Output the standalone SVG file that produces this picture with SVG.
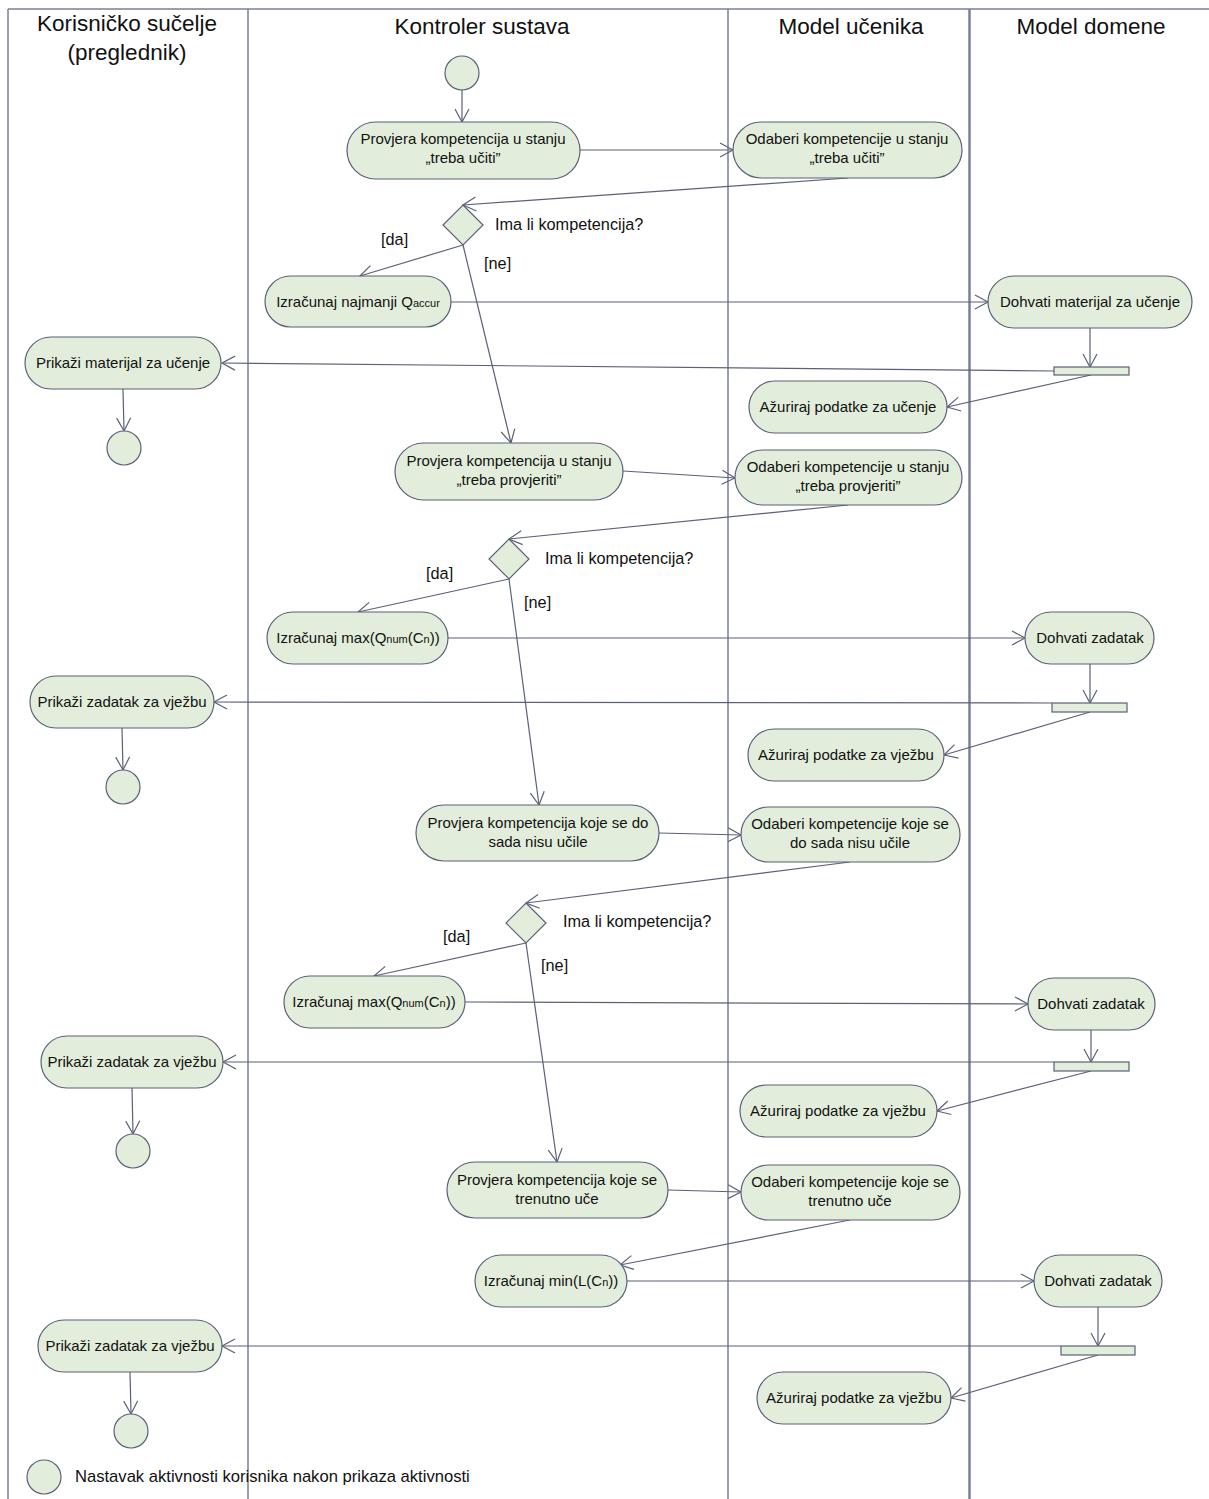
<svg xmlns="http://www.w3.org/2000/svg" width="1209" height="1499" viewBox="0 0 1209 1499">
<defs>
<marker id="arr" markerUnits="userSpaceOnUse" markerWidth="30" markerHeight="30" refX="0" refY="0" viewBox="-15 -15 30 30" orient="auto">
<path d="M-13,-7 L0,0 L-13,7" fill="none" stroke="#5b6177" stroke-width="1.2"/>
</marker>
</defs>
<style>
.lane{stroke:#7a8096;stroke-width:1.5;fill:none}
.act{fill:#e2eedb;stroke:#5b6177;stroke-width:1.2}
.t{font-family:"Liberation Sans",Arial,sans-serif;font-size:15px;fill:#111;text-anchor:middle}
.h{font-family:"Liberation Sans",Arial,sans-serif;font-size:22.5px;fill:#111;text-anchor:middle}
.lbl{font-family:"Liberation Sans",Arial,sans-serif;font-size:16.3px;fill:#111}
.lg{font-family:"Liberation Sans",Arial,sans-serif;font-size:16.6px;fill:#111}
.c{fill:none;stroke:#5b6177;stroke-width:1.2;marker-end:url(#arr)}
.s{font-size:11px}
</style>
<rect width="1209" height="1499" fill="#fff"/>
<g id="lanes">
<path class="lane" d="M8,9 H1209 M8,9 V1499 M248,9 V1499 M728,9 V1499"/>
<path d="M969.5,9 V1499" stroke="#7a8096" stroke-width="2.5"/>
<text class="h" x="127" y="31">Korisničko sučelje</text>
<text class="h" x="127" y="60">(preglednik)</text>
<text class="h" x="482" y="34">Kontroler sustava</text>
<text class="h" x="851" y="34">Model učenika</text>
<text class="h" x="1091" y="34">Model domene</text>
</g>
<g id="connectors">
<path class="c" d="M462,90 V122"/>
<path class="c" d="M580,150 H733"/>
<path class="c" d="M848,178 L463,205"/>
<path class="c" d="M463,245 L360,276"/>
<path class="c" d="M463,245 L511,443"/>
<path class="c" d="M451,302 H988"/>
<path class="c" d="M1090,328 V367"/>
<path class="c" d="M1054,371 L222,363"/>
<path class="c" d="M1091,375 L947,407"/>
<path class="c" d="M123,389 L124,431"/>
<path class="c" d="M623,471 L735,478"/>
<path class="c" d="M848,505 L509,539"/>
<path class="c" d="M509,579 L358,612"/>
<path class="c" d="M509,579 L539,805"/>
<path class="c" d="M448,638 H1025"/>
<path class="c" d="M1090,664 V703"/>
<path class="c" d="M1052,703 L214,702"/>
<path class="c" d="M1090,712 L944,755"/>
<path class="c" d="M122,728 L123,770"/>
<path class="c" d="M659,833 L741,835"/>
<path class="c" d="M850,862 L526,903"/>
<path class="c" d="M526,943 L374,976"/>
<path class="c" d="M526,943 L557,1162"/>
<path class="c" d="M465,1002 L1028,1004"/>
<path class="c" d="M1091,1030 V1062"/>
<path class="c" d="M1054,1062 L223,1062"/>
<path class="c" d="M1091,1071 L937,1111"/>
<path class="c" d="M132,1088 L133,1134"/>
<path class="c" d="M668,1190 L741,1192"/>
<path class="c" d="M850,1220 L620,1265"/>
<path class="c" d="M627,1281 H1034"/>
<path class="c" d="M1098,1307 V1346"/>
<path class="c" d="M1061,1346 L222,1346"/>
<path class="c" d="M1098,1355 L951,1398"/>
<path class="c" d="M130,1372 L131,1414"/>
<text class="lbl" x="495" y="230">Ima li kompetencija?</text>
<text class="lbl" x="381" y="245">[da]</text>
<text class="lbl" x="484" y="269">[ne]</text>
<text class="lbl" x="545" y="564">Ima li kompetencija?</text>
<text class="lbl" x="426" y="579">[da]</text>
<text class="lbl" x="524" y="608">[ne]</text>
<text class="lbl" x="563" y="927">Ima li kompetencija?</text>
<text class="lbl" x="443" y="942">[da]</text>
<text class="lbl" x="541" y="971">[ne]</text>
</g>
<g id="start"><circle class="act" cx="462" cy="73" r="17"/></g>
<g id="n1"><rect class="act" x="347" y="122" width="233" height="57" rx="28.5"/><text class="t" x="463" y="144">Provjera kompetencija u stanju</text><text class="t" x="463" y="163">„treba učiti”</text></g>
<g id="n2"><rect class="act" x="733" y="122" width="229" height="56" rx="28"/><text class="t" x="847" y="144">Odaberi kompetencije u stanju</text><text class="t" x="847" y="163">„treba učiti”</text></g>
<g id="d1"><path class="act" d="M463,205 L483,225 L463,245 L443,225 Z"/></g>
<g id="n3"><rect class="act" x="265" y="276" width="186" height="51" rx="25.5"/><text class="t" x="358" y="307">Izračunaj najmanji Q<tspan class="s">accur</tspan></text></g>
<g id="n4"><rect class="act" x="988" y="276" width="204" height="52" rx="26"/><text class="t" x="1090" y="307">Dohvati materijal za učenje</text></g>
<g id="f1"><rect class="act" x="1054" y="367" width="75" height="8"/></g>
<g id="n5"><rect class="act" x="25" y="337" width="196" height="52" rx="26"/><text class="t" x="123" y="368">Prikaži materijal za učenje</text></g>
<g id="n6"><rect class="act" x="749" y="381" width="198" height="52" rx="26"/><text class="t" x="848" y="412">Ažuriraj podatke za učenje</text></g>
<g id="e1"><circle class="act" cx="124" cy="448" r="17"/></g>
<g id="n7"><rect class="act" x="395" y="443" width="228" height="57" rx="28.5"/><text class="t" x="509" y="466">Provjera kompetencija u stanju</text><text class="t" x="509" y="485">„treba provjeriti”</text></g>
<g id="n8"><rect class="act" x="735" y="450" width="227" height="55" rx="27.5"/><text class="t" x="848" y="472">Odaberi kompetencije u stanju</text><text class="t" x="848" y="491">„treba provjeriti”</text></g>
<g id="d2"><path class="act" d="M509,539 L529,559 L509,579 L489,559 Z"/></g>
<g id="n9"><rect class="act" x="267" y="612" width="181" height="52" rx="26"/><text class="t" x="358" y="643">Izračunaj max(Q<tspan class="s">num</tspan>(C<tspan class="s">n</tspan>))</text></g>
<g id="n10"><rect class="act" x="1025" y="612" width="129" height="52" rx="26"/><text class="t" x="1090" y="643">Dohvati zadatak</text></g>
<g id="f2"><rect class="act" x="1052" y="703" width="75" height="9"/></g>
<g id="n11"><rect class="act" x="30" y="676" width="184" height="52" rx="26"/><text class="t" x="122" y="707">Prikaži zadatak za vježbu</text></g>
<g id="n12"><rect class="act" x="748" y="729" width="196" height="52" rx="26"/><text class="t" x="846" y="760">Ažuriraj podatke za vježbu</text></g>
<g id="e2"><circle class="act" cx="123" cy="787" r="17"/></g>
<g id="n13"><rect class="act" x="416" y="805" width="243" height="56" rx="28"/><text class="t" x="538" y="828">Provjera kompetencija koje se do</text><text class="t" x="538" y="847">sada nisu učile</text></g>
<g id="n14"><rect class="act" x="741" y="807" width="219" height="55" rx="27.5"/><text class="t" x="850" y="829">Odaberi kompetencije koje se</text><text class="t" x="850" y="848">do sada nisu učile</text></g>
<g id="d3"><path class="act" d="M526,903 L546,923 L526,943 L506,923 Z"/></g>
<g id="n15"><rect class="act" x="284" y="976" width="181" height="52" rx="26"/><text class="t" x="374" y="1007">Izračunaj max(Q<tspan class="s">num</tspan>(C<tspan class="s">n</tspan>))</text></g>
<g id="n16"><rect class="act" x="1028" y="978" width="127" height="52" rx="26"/><text class="t" x="1091" y="1009">Dohvati zadatak</text></g>
<g id="f3"><rect class="act" x="1054" y="1062" width="75" height="9"/></g>
<g id="n17"><rect class="act" x="41" y="1036" width="182" height="52" rx="26"/><text class="t" x="132" y="1067">Prikaži zadatak za vježbu</text></g>
<g id="n18"><rect class="act" x="740" y="1085" width="197" height="52" rx="26"/><text class="t" x="838" y="1116">Ažuriraj podatke za vježbu</text></g>
<g id="e3"><circle class="act" cx="133" cy="1151" r="17"/></g>
<g id="n19"><rect class="act" x="447" y="1162" width="221" height="56" rx="28"/><text class="t" x="557" y="1185">Provjera kompetencija koje se</text><text class="t" x="557" y="1204">trenutno uče</text></g>
<g id="n20"><rect class="act" x="741" y="1165" width="219" height="55" rx="27.5"/><text class="t" x="850" y="1187">Odaberi kompetencije koje se</text><text class="t" x="850" y="1206">trenutno uče</text></g>
<g id="n21"><rect class="act" x="475" y="1255" width="152" height="52" rx="26"/><text class="t" x="551" y="1286">Izračunaj min(L(C<tspan class="s">n</tspan>))</text></g>
<g id="n22"><rect class="act" x="1034" y="1255" width="128" height="52" rx="26"/><text class="t" x="1098" y="1286">Dohvati zadatak</text></g>
<g id="f4"><rect class="act" x="1061" y="1346" width="74" height="9"/></g>
<g id="n23"><rect class="act" x="38" y="1320" width="184" height="52" rx="26"/><text class="t" x="130" y="1351">Prikaži zadatak za vježbu</text></g>
<g id="n24"><rect class="act" x="757" y="1372" width="194" height="52" rx="26"/><text class="t" x="854" y="1403">Ažuriraj podatke za vježbu</text></g>
<g id="e4"><circle class="act" cx="131" cy="1431" r="17"/></g>
<g id="legend"><circle class="act" cx="44" cy="1477" r="17"/><text class="lg" x="75" y="1482">Nastavak aktivnosti korisnika nakon prikaza aktivnosti</text></g>
</svg>
